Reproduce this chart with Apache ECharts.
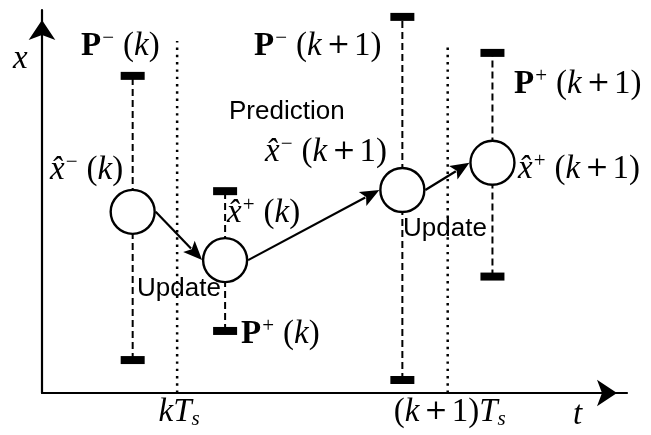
<!DOCTYPE html>
<html>
<head>
<meta charset="utf-8">
<script src="https://cdn.jsdelivr.net/npm/echarts@6/dist/echarts.min.js"></script>
<style>
  html, body { margin: 0; padding: 0; background: #fff; }
  #chart { width: 651px; height: 435px; }
</style>
</head>
<body>
<div id="chart"></div>
<script>
// Estimates in order: prior at k, posterior at k, prior at k+1, posterior at k+1
const estimateTimes = [15.5, 31.3, 61.6, 77.0];
const estimateValues = [47.3, 34.7, 53.0, 60.1];
// Covariance spread around each estimate
const covarianceUpper = [82.8, 52.7, 98.2, 88.8];
const covarianceLower = [8.6, 16.2, 3.4, 30.4];
// Sampling instants and their guide lines
const sampleTimes = [23.1, 69.35];
const sampleLineTops = [91.9, 91.4];
const sampleLabels = ['kT_s', '(k+1)T_s'];
// Text (^ = superscript, _ = subscript)
const estimateLabels = ['x̂^−(k)', 'x̂^+(k)', 'x̂^−(k+1)', 'x̂^+(k+1)'];
const covarianceLabels = ['P^−(k)', 'P^+(k)', 'P^−(k+1)', 'P^+(k+1)'];
const stepLabels = ['Update', 'Prediction', 'Update'];
const axisNames = ['t', 'x'];
// Which estimate leads to which
const transitionFrom = [0, 1, 2];
const transitionTo = [1, 2, 3];

const SERIF = 'Liberation Serif';
const SANS = 'Liberation Sans';
const FS = 33, LH = 36;
const mathRich = {
  n:   { fontFamily: SERIF, fontSize: FS, lineHeight: LH, color: '#000' },
  i:   { fontFamily: SERIF, fontSize: FS, lineHeight: LH, color: '#000', fontStyle: 'italic' },
  b:   { fontFamily: SERIF, fontSize: FS, lineHeight: LH, color: '#000', fontWeight: 'bold' },
  op:  { fontFamily: 'DejaVu Serif', fontSize: 28, lineHeight: LH, color: '#000', padding: [0, 4, 0, 5] },
  sup: { fontFamily: SERIF, fontSize: 21, lineHeight: 19, color: '#000', verticalAlign: 'top', padding: [0, 9, 0, 1] },
  sub: { fontFamily: SERIF, fontSize: 21, lineHeight: 19, color: '#000', verticalAlign: 'bottom', fontStyle: 'italic' }
};

// Turn a compact math string into ECharts rich text
function toRich(s) {
  let out = '';
  for (let i = 0; i < s.length; i++) {
    let c = s[i];
    if (c === '^' || c === '_') {
      out += '{' + (c === '^' ? 'sup' : 'sub') + '|' + s[i + 1] + '}';
      i++;
      continue;
    }
    while (i + 1 < s.length && /[\u0300-\u036f]/.test(s[i + 1])) { c += s[i + 1]; i++; }
    let st;
    if (c === 'P') st = 'b';
    else if (/[a-zA-Z]/.test(c[0])) st = 'i';
    else if (c === '+') st = 'op';
    else st = 'n';
    out += '{' + st + '|' + c + '}';
  }
  return out;
}

function mathText(str, x, y) {
  return {
    type: 'text', x: x, y: y, z: 20,
    style: { text: toRich(str), rich: mathRich, align: 'left', verticalAlign: 'middle',
             textAlign: 'left', textVerticalAlign: 'middle' }
  };
}
function plainText(str, x, y) {
  return {
    type: 'text', x: x, y: y, z: 20,
    style: { text: str, fontFamily: SANS, fontSize: 26, fill: '#000', align: 'left', verticalAlign: 'middle',
             textAlign: 'left', textVerticalAlign: 'middle' }
  };
}

const errorBarData = estimateTimes.map((t, i) => [t, covarianceLower[i], covarianceUpper[i]]);
const estimateData = estimateTimes.map((t, i) => [t, estimateValues[i]]);
const sampleData = sampleTimes.map((t, i) => [t, sampleLineTops[i], i]);
const transitionData = transitionFrom.map((a, i) => {
  const b = transitionTo[i];
  return [estimateTimes[a], estimateValues[a], estimateTimes[b], estimateValues[b]];
});

const RADIUS = 23;
const hiddenAxis = {
  type: 'value', min: 0, max: 100,
  splitLine: { show: false }, axisTick: { show: false }, axisLabel: { show: false },
  axisLine: { show: true, onZero: false, symbol: ['none', 'arrow'], symbolSize: [20, 20], symbolOffset: [0, -10],
              lineStyle: { color: '#000', width: 2.2 } }
};

const chart = echarts.init(document.getElementById('chart'), null, { renderer: 'canvas' });
chart.setOption({
  animation: false,
  backgroundColor: '#fff',
  grid: { left: 42, right: 24, top: 10, bottom: 42, outerBoundsMode: 'none' },
  xAxis: Object.assign({}, hiddenAxis),
  yAxis: Object.assign({}, hiddenAxis),
  series: [
    {
      // dotted sampling-instant lines with their time labels
      type: 'custom', z: 1, silent: true,
      data: sampleData,
      renderItem: function (params, api) {
        const base = api.coord([api.value(0), 0]);
        const top = api.coord([api.value(0), api.value(1)]);
        return {
          type: 'group',
          children: [
            { type: 'line', shape: { x1: base[0], y1: base[1], x2: top[0], y2: top[1] },
              style: { stroke: '#000', lineWidth: 2.5, lineDash: [2.4, 4.9] } },
            { type: 'text', x: base[0] + 2, y: base[1] + 19,
              style: { text: toRich(sampleLabels[api.value(2)]), rich: mathRich,
                       align: 'center', verticalAlign: 'middle', textAlign: 'center', textVerticalAlign: 'middle' } }
          ]
        };
      }
    },
    {
      // dashed covariance bars with end caps
      type: 'custom', z: 2, silent: true,
      data: errorBarData,
      renderItem: function (params, api) {
        const lo = api.coord([api.value(0), api.value(1)]);
        const hi = api.coord([api.value(0), api.value(2)]);
        return {
          type: 'group',
          children: [
            { type: 'line', shape: { x1: lo[0], y1: lo[1], x2: hi[0], y2: hi[1] },
              style: { stroke: '#000', lineWidth: 2, lineDash: [7, 4] } },
            { type: 'rect', shape: { x: hi[0] - 12, y: hi[1] - 4, width: 24, height: 8 }, style: { fill: '#000' } },
            { type: 'rect', shape: { x: lo[0] - 12, y: lo[1] - 4, width: 24, height: 8 }, style: { fill: '#000' } }
          ]
        };
      }
    },
    {
      // arrows from one estimate to the next
      type: 'custom', z: 3, silent: true,
      data: transitionData,
      renderItem: function (params, api) {
        const a = api.coord([api.value(0), api.value(1)]);
        const b = api.coord([api.value(2), api.value(3)]);
        const x1 = a[0] + RADIUS, y1 = a[1];
        const x2 = b[0] - RADIUS, y2 = b[1];
        const len = Math.hypot(x2 - x1, y2 - y1);
        const ux = (x2 - x1) / len, uy = (y2 - y1) / len;
        const head = 19, half = 8;
        const bx = x2 - ux * head, by = y2 - uy * head;
        return {
          type: 'group',
          children: [
            { type: 'line', shape: { x1: x1, y1: y1, x2: bx + ux * 3, y2: by + uy * 3 },
              style: { stroke: '#000', lineWidth: 2.2 } },
            { type: 'polygon', shape: { points: [
                [x2, y2],
                [bx - uy * half, by + ux * half],
                [bx + ux * 4, by + uy * 4],
                [bx + uy * half, by - ux * half]
              ] }, style: { fill: '#000' } }
          ]
        };
      }
    },
    {
      // state estimates
      type: 'scatter', z: 4, silent: true,
      data: estimateData,
      symbol: 'circle', symbolSize: 44,
      itemStyle: { color: '#fff', borderColor: '#000', borderWidth: 2.4, opacity: 1 }
    }
  ],
  graphic: {
    elements: [
      mathText(axisNames[1], 13, 59),
      mathText(covarianceLabels[0], 81, 46),
      mathText(covarianceLabels[2], 254, 46),
      mathText(estimateLabels[0], 50, 170),
      plainText(stepLabels[1], 229, 112),
      mathText(estimateLabels[2], 265, 152),
      mathText(estimateLabels[1], 227, 213),
      plainText(stepLabels[0], 137, 289),
      mathText(covarianceLabels[1], 241, 334),
      mathText(axisNames[0], 573, 415),
      mathText(covarianceLabels[3], 514, 84),
      mathText(estimateLabels[3], 518, 169),
      plainText(stepLabels[2], 403, 229)
    ]
  }
});
</script>
</body>
</html>
